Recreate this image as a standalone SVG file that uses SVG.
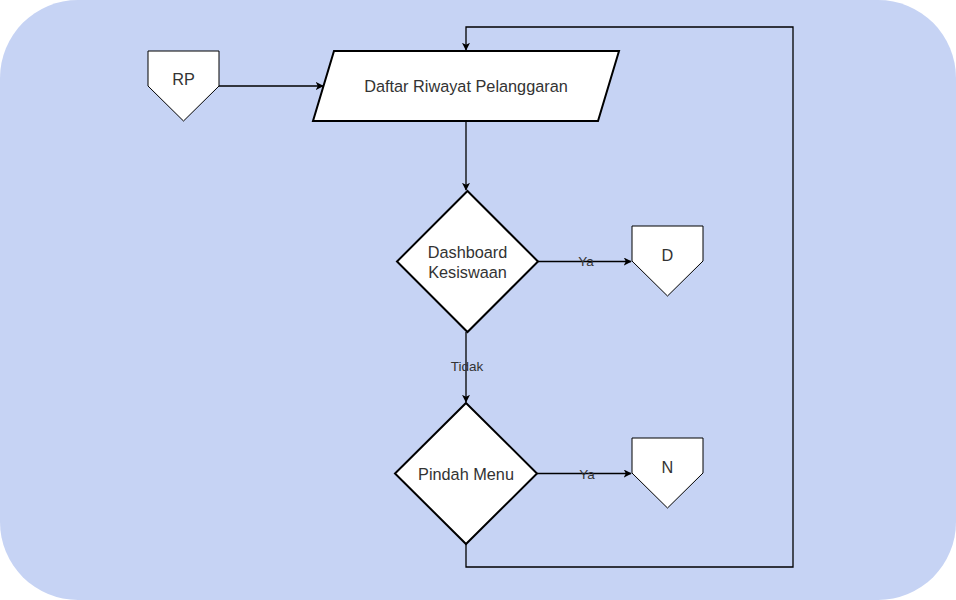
<svg xmlns="http://www.w3.org/2000/svg" width="956" height="600" viewBox="0 0 956 600">
<defs>
<style>
.shape{fill:#ffffff;stroke:#000000;stroke-width:2}
.off{fill:#ffffff;stroke:#000000;stroke-width:1}
.t{font-family:"Liberation Sans",Arial,sans-serif;font-size:16.3px;fill:#333333;text-anchor:middle;dominant-baseline:central}
.lbl{font-family:"Liberation Sans",Arial,sans-serif;font-size:13.5px;fill:#333333;text-anchor:middle;dominant-baseline:central}
.c{fill:none;stroke:#000000;stroke-width:1.3}
</style>
<marker id="arr" viewBox="0 0 10 10" refX="9" refY="5" markerWidth="8" markerHeight="8" markerUnits="userSpaceOnUse" orient="auto">
<path d="M0,0 L10,5 L0,10 L2.5,5 Z" fill="#000000"/>
</marker>
</defs>
<rect x="0" y="0" width="956" height="600" fill="#ffffff"/>
<rect x="0" y="0" width="956" height="600" rx="78" ry="78" fill="#c6d3f4"/>
<g id="connectors">
<path class="c" d="M219,86 L323,86" marker-end="url(#arr)"/>
<path class="c" d="M466,121 L466,190" marker-end="url(#arr)"/>
<path class="c" d="M538,261.5 L631,261.5" marker-end="url(#arr)"/>
<path class="c" d="M466,332 L466,402" marker-end="url(#arr)"/>
<path class="c" d="M537,473.5 L631,473.5" marker-end="url(#arr)"/>
<path class="c" d="M466,544 L466,567 L793,567 L793,27 L466,27 L466,50" marker-end="url(#arr)"/>
<text class="lbl" x="586" y="261.5">Ya</text>
<text class="lbl" x="467" y="366">Tidak</text>
<text class="lbl" x="587" y="474">Ya</text>
</g>
<g id="node-rp">
<path class="off" d="M148,51 L219,51 L219,86 L183.5,121 L148,86 Z"/>
<text class="t" x="183.5" y="79">RP</text>
</g>
<g id="node-daftar">
<path class="shape" d="M334,51 L619,51 L598,121 L313,121 Z"/>
<text class="t" x="466" y="86">Daftar Riwayat Pelanggaran</text>
</g>
<g id="node-dashboard">
<path class="shape" d="M467.5,191 L538,261.5 L467.5,332 L397,261.5 Z"/>
<text class="t" x="467.5" y="251.5">Dashboard</text>
<text class="t" x="467.5" y="271.5">Kesiswaan</text>
</g>
<g id="node-d">
<path class="off" d="M632,226 L703,226 L703,261 L667.5,296 L632,261 Z"/>
<text class="t" x="667.5" y="255">D</text>
</g>
<g id="node-pindah">
<path class="shape" d="M466,403 L537,473.5 L466,544 L395,473.5 Z"/>
<text class="t" x="466" y="473.5">Pindah Menu</text>
</g>
<g id="node-n">
<path class="off" d="M632,438 L703,438 L703,473 L667.5,508 L632,473 Z"/>
<text class="t" x="667.5" y="467">N</text>
</g>
</svg>
